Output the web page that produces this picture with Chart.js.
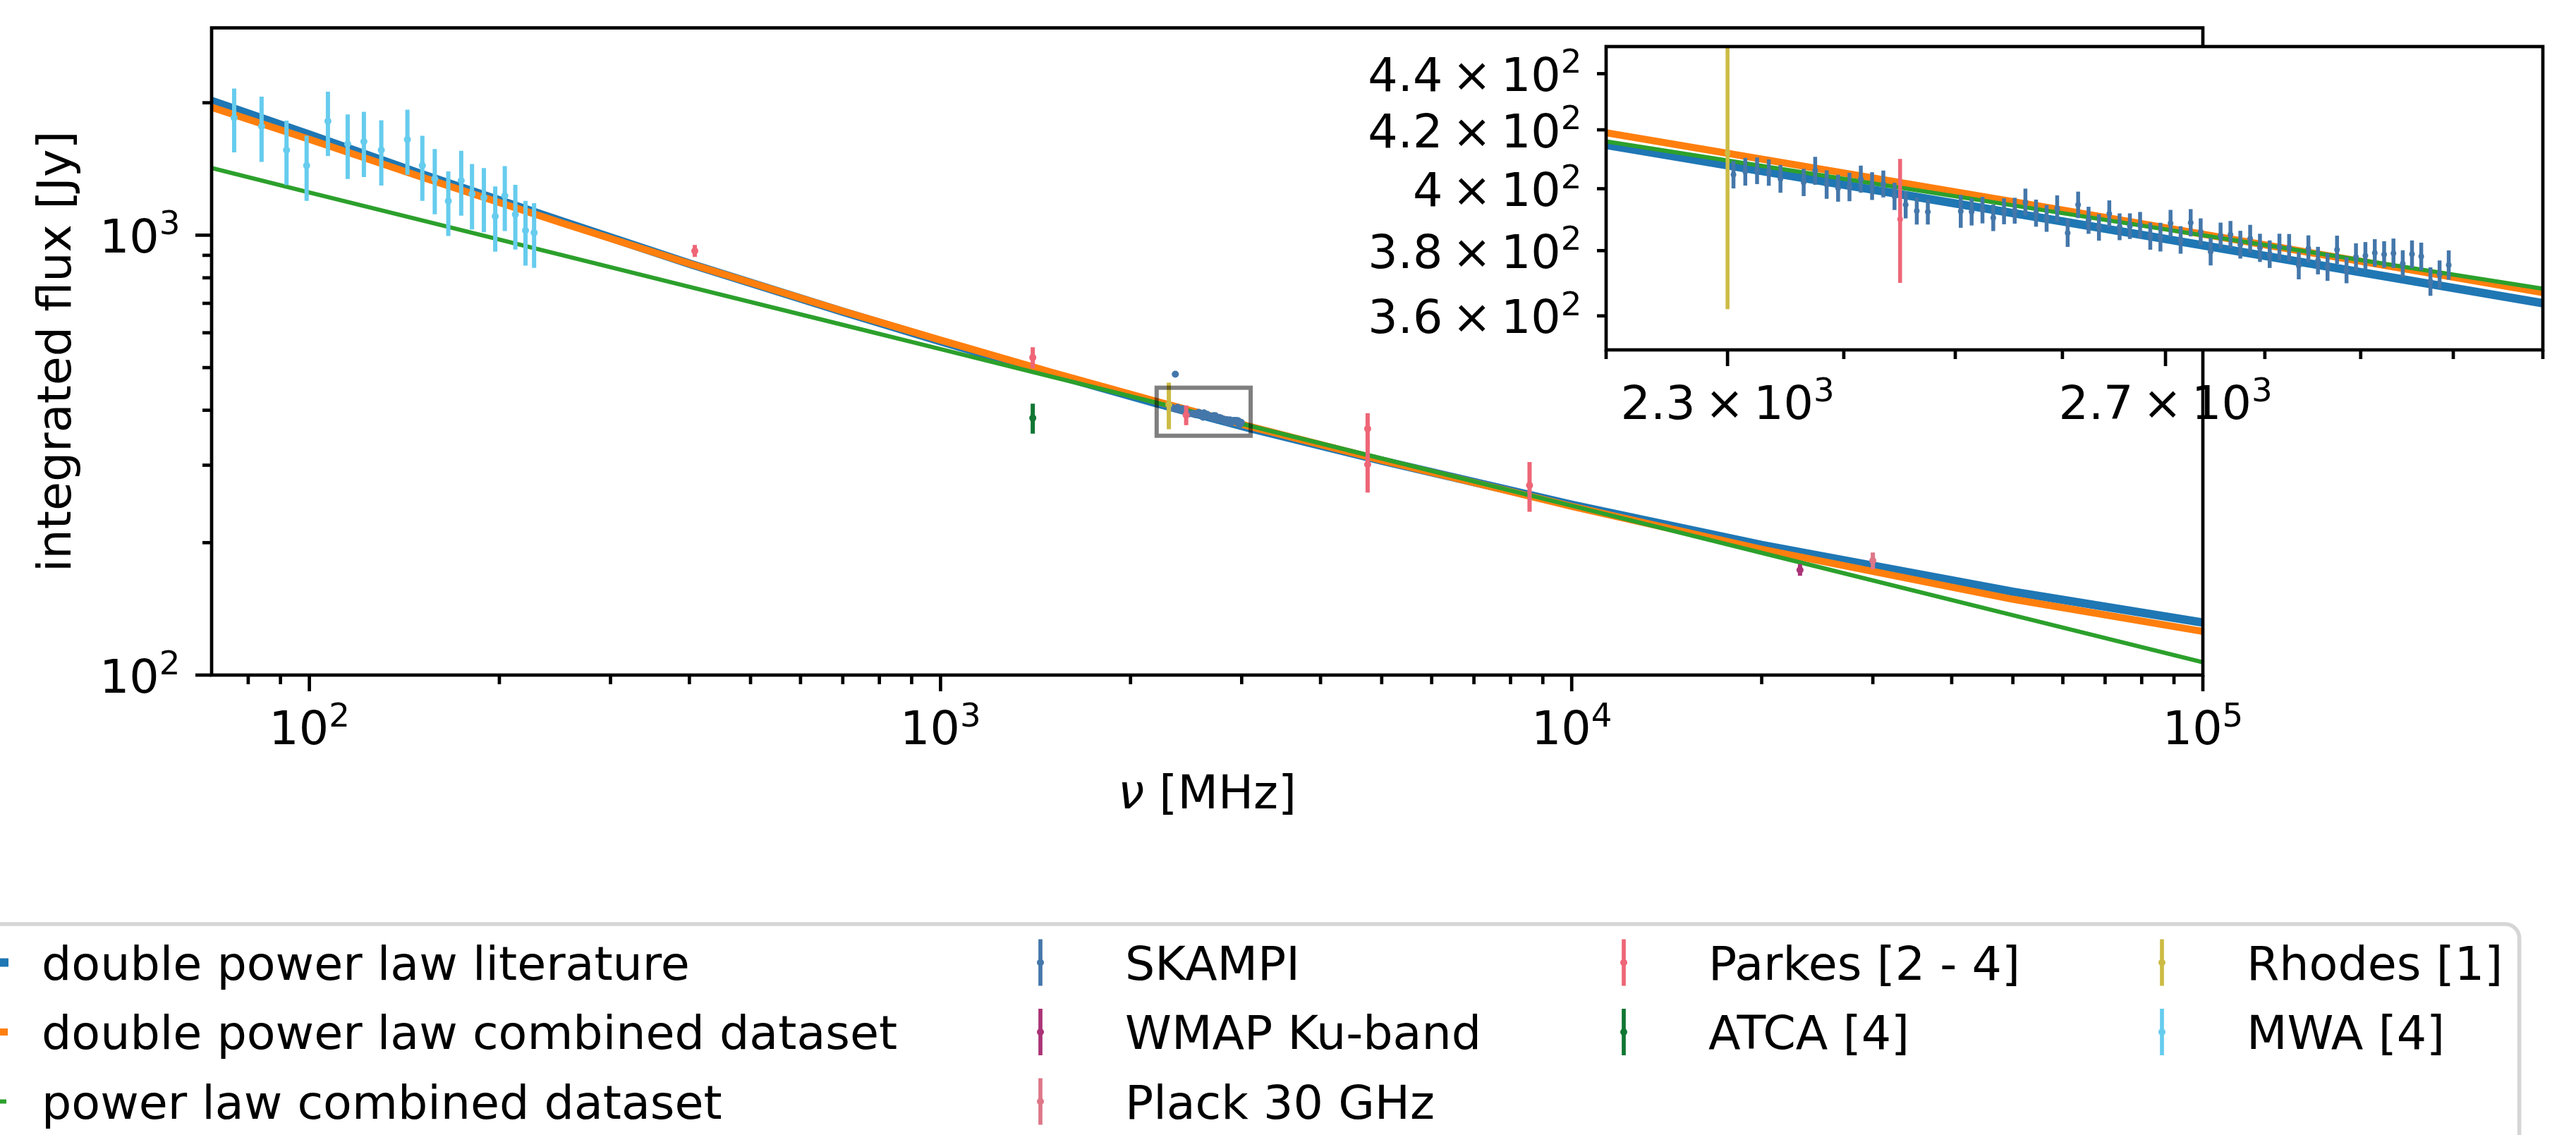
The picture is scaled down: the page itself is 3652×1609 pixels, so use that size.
<!DOCTYPE html>
<html>
<head>
<meta charset="utf-8">
<script src="https://cdn.jsdelivr.net/npm/chart.js@4.4.1/dist/chart.umd.min.js"></script>
<style>
html,body{margin:0;padding:0;background:#fff;overflow:hidden;}
#wrap{position:relative;width:3652px;height:1609px;}
#main{position:absolute;left:0;top:0;}
#inset{position:absolute;left:1900px;top:0;}
</style>
</head>
<body>
<div id="wrap">
<canvas id="main" width="3652" height="1609"></canvas>
<canvas id="inset" width="1752" height="640"></canvas>
</div>
<script>
// ---------------- DATA ----------------
// model curves (frequency in MHz, flux in Jy)
const modelFreq     = [70, 100, 150, 250, 400, 700, 1000, 1500, 2200, 2600, 3100, 5000, 10000, 20000, 50000, 100000];
const dplLiterature = [2018, 1692, 1379, 1077, 861.8, 670, 574.2, 484.2, 414.8, 389.3, 363.8, 307.2, 243.8, 197.6, 154.7, 131.6];
const dplCombined   = [1953, 1651, 1358, 1068, 861.8, 672.2, 577.5, 487.8, 419.0, 393.0, 367.0, 307.9, 241.8, 193.2, 148.7, 125.7];
const plCombined    = [1422, 1250.5, 1082.4, 902.4, 763.2, 625.4, 550.9, 476.8, 416.0, 392.0, 368.2, 310.7, 242.7, 189.6, 136.8, 106.9];

// SKAMPI
const skampiFreq = [2305, 2315, 2325, 2335, 2345, 2355, 2365, 2375, 2385, 2395, 2405, 2415, 2425, 2435, 2445, 2455, 2465, 2475,
  2505, 2515, 2525, 2535, 2545, 2555, 2565, 2575, 2585, 2595, 2605, 2615, 2625, 2635, 2645, 2655, 2665, 2675, 2685, 2695,
  2705, 2715, 2725, 2735, 2745, 2755, 2765, 2775, 2785, 2795, 2805, 2815, 2825, 2835, 2845, 2855, 2865, 2875, 2885, 2895,
  2905, 2915, 2925, 2935, 2945, 2955, 2965, 2975, 2985, 2995];
const skampiFlux = [404.7, 405.7, 406.0, 405.4, 403.3, 483.0, 402.1, 406.0, 401.4, 400.2, 400.6, 403.2, 400.9, 401.6, 397.5, 394.7, 392.7, 392.4,
  392.6, 392.4, 393.0, 390.5, 392.6, 392.8, 395.6, 392.0, 390.3, 393.5, 385.6, 394.7, 389.7, 387.4, 391.8, 387.6, 387.8, 388.1, 384.6, 384.3,
  388.7, 383.4, 388.9, 386.0, 379.7, 384.8, 385.1, 381.9, 383.8, 380.9, 378.9, 381.2, 381.0, 375.3, 380.6, 376.9, 374.9, 380.3, 373.9, 378.0,
  378.4, 379.3, 378.8, 379.2, 375.9, 378.9, 378.2, 370.4, 372.6, 375.5];
const skampiErr = [4.61, 4.66, 4.47, 4.42, 4.64, 4.5, 4.54, 4.71, 4.73, 4.48, 4.72, 4.52, 4.61, 4.46, 4.49, 4.42, 4.40, 4.09,
  5.35, 4.40, 4.33, 4.30, 4.21, 4.21, 4.43, 4.39, 4.33, 4.29, 4.43, 4.34, 4.37, 4.26, 4.35, 4.30, 4.12, 4.27, 4.31, 4.57,
  4.35, 4.37, 4.39, 4.29, 4.33, 4.12, 4.35, 4.39, 4.41, 4.45, 4.32, 4.16, 4.27, 4.24, 4.23, 4.30, 4.31, 4.44, 4.04, 4.31,
  4.31, 4.32, 4.17, 4.62, 4.21, 4.32, 4.31, 4.37, 4.32, 4.57];

const wmapFreq = [23000];  const wmapFlux = [173.4];  const wmapErr = [5.3];
const planckFreq = [30000]; const planckFlux = [182.0]; const planckErr = [8];
const parkesFreq = [408, 1400, 2450, 4750, 4750, 8575];
const parkesFlux = [921, 527, 390, 363, 301, 270];
const parkesErr  = [29, 29, 20, 31, 41, 35];
const atcaFreq = [1400];  const atcaFlux = [384];  const atcaErr = [30];
const rhodesFreq = [2300]; const rhodesFlux = [412]; const rhodesErr = [50];
const mwaFreq = [76, 84, 92, 99, 107, 115, 122, 130, 143, 151, 158, 166, 174, 181, 189, 197, 204, 212, 220, 227];
const mwaFlux = [1848, 1767, 1561, 1440, 1816, 1612, 1632, 1561, 1650, 1440, 1343, 1196, 1331, 1241, 1218, 1104, 1229, 1115, 1025, 1013];
const mwaErr  = [306, 299, 261, 243, 303, 270, 276, 264, 278, 243, 227, 200, 224, 210, 203, 187, 207, 187, 172, 170];

// ticks and labels
const mainXMajor = [100, 1000, 10000, 100000];
const mainXLabels = ['10^2', '10^3', '10^4', '10^5'];
const mainXMinor = [80, 90, 200, 300, 400, 500, 600, 700, 800, 900, 2000, 3000, 4000, 5000, 6000, 7000, 8000, 9000,
  20000, 30000, 40000, 50000, 60000, 70000, 80000, 90000];
const mainYMajor = [100, 1000];
const mainYLabels = ['10^2', '10^3'];
const mainYMinor = [200, 300, 400, 500, 600, 700, 800, 900, 2000];
const insetXMajor = [2300, 2700];
const insetXLabels = ['2.3\u2009\u00d7\u200910^3', '2.7\u2009\u00d7\u200910^3'];
const insetXMinor = [2200, 2400, 2500, 2600, 2800, 2900, 3000, 3100];
const insetYTicks = [360, 380, 400, 420, 440];
const insetYLabels = ['3.6\u2009\u00d7\u200910^2', '3.8\u2009\u00d7\u200910^2', '4\u2009\u00d7\u200910^2', '4.2\u2009\u00d7\u200910^2', '4.4\u2009\u00d7\u200910^2'];
const xTitleSymbol = '\u03bd';
const xTitleRest = ' [MHz]';
const yTitle = 'integrated flux [Jy]';
const legendColumns = [
  ['double power law literature', 'double power law combined dataset', 'power law combined dataset'],
  ['SKAMPI', 'WMAP Ku-band', 'Plack 30 GHz'],
  ['Parkes [2 - 4]', 'ATCA [4]'],
  ['Rhodes [1]', 'MWA [4]']
];

// ---------------- STYLE ----------------
const FS = 66.7;
const FAM = '"DejaVu Sans"';
const pointSeries = [
  {label: 'SKAMPI', color: '#4477AA', f: skampiFreq, s: skampiFlux, e: skampiErr, order: 10},
  {label: 'WMAP Ku-band', color: '#AA3377', f: wmapFreq, s: wmapFlux, e: wmapErr, order: 9},
  {label: 'Plack 30 GHz', color: '#DD7788', f: planckFreq, s: planckFlux, e: planckErr, order: 8},
  {label: 'Parkes [2 - 4]', color: '#EE6677', f: parkesFreq, s: parkesFlux, e: parkesErr, order: 7},
  {label: 'ATCA [4]', color: '#117733', f: atcaFreq, s: atcaFlux, e: atcaErr, order: 6},
  {label: 'Rhodes [1]', color: '#CCBB44', f: rhodesFreq, s: rhodesFlux, e: rhodesErr, order: 5},
  {label: 'MWA [4]', color: '#66CCEE', f: mwaFreq, s: mwaFlux, e: mwaErr, order: 4}
];
const lineSeries = [
  {label: 'double power law literature', color: '#1f77b4', width: 12, s: dplLiterature, order: 30},
  {label: 'double power law combined dataset', color: '#ff7f0e', width: 10, s: dplCombined, order: 29},
  {label: 'power law combined dataset', color: '#2ca02c', width: 6, s: plCombined, order: 28}
];

function makeDatasets(pr, ew) {
  const out = [];
  lineSeries.forEach(l => out.push({
    label: l.label, data: modelFreq.map((f, i) => ({x: f, y: l.s[i]})),
    showLine: true, borderColor: l.color, backgroundColor: l.color, borderWidth: l.width,
    pointRadius: 0, tension: 0, order: l.order, lineWidthLegend: l.width
  }));
  pointSeries.forEach(p => out.push({
    label: p.label, data: p.f.map((f, i) => ({x: f, y: p.s[i]})), err: p.e.slice(), errWidth: ew,
    showLine: false, borderColor: p.color, backgroundColor: p.color, pointBackgroundColor: p.color,
    pointBorderWidth: 0, pointRadius: pr, order: p.order
  }));
  return out;
}

function drawSci(ctx, label, x, y, align) {
  const parts = label.split('^');
  const base = parts[0], exp = parts[1];
  ctx.font = FS + 'px ' + FAM;
  const wb = ctx.measureText(base).width;
  let we = 0;
  if (exp) { ctx.font = (FS * 0.7) + 'px ' + FAM; we = ctx.measureText(exp).width; }
  const w = wb + we;
  const x0 = align === 'center' ? x - w / 2 : (align === 'right' ? x - w : x);
  ctx.textAlign = 'left'; ctx.textBaseline = 'alphabetic'; ctx.fillStyle = '#000';
  ctx.font = FS + 'px ' + FAM; ctx.fillText(base, x0, y);
  if (exp) { ctx.font = (FS * 0.7) + 'px ' + FAM; ctx.fillText(exp, x0 + wb, y - 25.5); }
}

const decor = {
  id: 'decor',
  beforeDraw(chart, args, o) {
    const ctx = chart.ctx, a = chart.chartArea;
    ctx.save(); ctx.fillStyle = '#fff';
    if (o.fullBg) ctx.fillRect(0, 0, chart.width, chart.height);
    else ctx.fillRect(a.left, a.top, a.right - a.left, a.bottom - a.top);
    ctx.restore();
  },
  beforeDatasetDraw(chart, args) {
    const ds = chart.data.datasets[args.index];
    if (!ds.err) return;
    const ctx = chart.ctx, a = chart.chartArea, xs = chart.scales.x, ys = chart.scales.y;
    ctx.save();
    ctx.beginPath(); ctx.rect(a.left, a.top, a.right - a.left, a.bottom - a.top); ctx.clip();
    ctx.strokeStyle = ds.borderColor; ctx.lineWidth = ds.errWidth; ctx.lineCap = 'butt';
    ds.data.forEach((p, i) => {
      const e = ds.err[i];
      const px = xs.getPixelForValue(p.x);
      ctx.beginPath();
      ctx.moveTo(px, ys.getPixelForValue(p.y - e));
      ctx.lineTo(px, ys.getPixelForValue(p.y + e));
      ctx.stroke();
    });
    ctx.restore();
  },
  afterDatasetsDraw(chart, args, o) {
    if (!o.zoomBox) return;
    const ctx = chart.ctx, xs = chart.scales.x, ys = chart.scales.y, b = o.zoomBox;
    const x0 = xs.getPixelForValue(b[0]), x1 = xs.getPixelForValue(b[1]);
    const y0 = ys.getPixelForValue(b[3]), y1 = ys.getPixelForValue(b[2]);
    ctx.save(); ctx.strokeStyle = 'rgba(0,0,0,0.5)'; ctx.lineWidth = 6;
    ctx.strokeRect(x0, y0, x1 - x0, y1 - y0); ctx.restore();
  },
  afterDraw(chart, args, o) {
    const ctx = chart.ctx, a = chart.chartArea, xs = chart.scales.x, ys = chart.scales.y;
    ctx.save();
    ctx.strokeStyle = '#000'; ctx.lineWidth = 4.7; ctx.lineCap = 'butt';
    const tick = (px, py, dx, dy) => { ctx.beginPath(); ctx.moveTo(px, py); ctx.lineTo(px + dx, py + dy); ctx.stroke(); };
    o.xMajor.forEach(v => tick(xs.getPixelForValue(v), a.bottom, 0, o.xMajorLen));
    o.xMinor.forEach(v => tick(xs.getPixelForValue(v), a.bottom, 0, 13));
    o.yMajor.forEach(v => tick(a.left, ys.getPixelForValue(v), -o.yMajorLen, 0));
    o.yMinor.forEach(v => tick(a.left, ys.getPixelForValue(v), -13, 0));
    ctx.lineJoin = 'miter';
    ctx.strokeRect(a.left, a.top, a.right - a.left, a.bottom - a.top);
    o.xMajor.forEach((v, i) => drawSci(ctx, o.xLabels[i], xs.getPixelForValue(v), a.bottom + 98, 'center'));
    o.yMajor.forEach((v, i) => drawSci(ctx, o.yLabels[i], a.left - o.yMajorLen - 21.5, ys.getPixelForValue(v) + 24.5, 'right'));
    if (o.titles) {
      // y title
      ctx.save(); ctx.translate(100, (a.top + a.bottom) / 2); ctx.rotate(-Math.PI / 2);
      ctx.font = FS + 'px ' + FAM; ctx.textAlign = 'center'; ctx.textBaseline = 'alphabetic'; ctx.fillStyle = '#000';
      ctx.fillText(yTitle, 0, 0); ctx.restore();
      // x title
      ctx.font = 'italic ' + FS + 'px ' + FAM; const w1 = ctx.measureText(xTitleSymbol).width;
      ctx.font = FS + 'px ' + FAM; const w2 = ctx.measureText(xTitleRest).width;
      const cx = (a.left + a.right) / 2, x0 = cx - (w1 + w2) / 2, by = 1146;
      ctx.textAlign = 'left'; ctx.fillStyle = '#000';
      ctx.font = 'italic ' + FS + 'px ' + FAM; ctx.fillText(xTitleSymbol, x0, by);
      ctx.font = FS + 'px ' + FAM; ctx.fillText(xTitleRest, x0 + w1, by);
    }
    if (o.legend) drawLegend(chart);
    ctx.restore();
  }
};

function drawLegend(chart) {
  const ctx = chart.ctx;
  const byLabel = {};
  chart.data.datasets.forEach(d => byLabel[d.label] = d);
  ctx.save();
  ctx.beginPath(); ctx.roundRect(-150, 1310, 3571.6 + 150, 420, 20);
  ctx.fillStyle = 'rgba(255,255,255,0.8)'; ctx.fill();
  ctx.strokeStyle = 'rgba(204,204,204,0.8)'; ctx.lineWidth = 5.6; ctx.stroke();
  const rowY = [1364.5, 1463, 1561.5];
  const handleX = [null, 1475, 2302, 3065];
  ctx.font = FS + 'px ' + FAM; ctx.textAlign = 'left'; ctx.textBaseline = 'alphabetic';
  legendColumns.forEach((col, ci) => {
    col.forEach((lab, ri) => {
      const d = byLabel[lab]; const cy = rowY[ri];
      if (ci === 0) {
        ctx.strokeStyle = d.borderColor; ctx.lineWidth = d.lineWidthLegend; ctx.lineCap = 'square';
        ctx.beginPath(); ctx.moveTo(-127, cy); ctx.lineTo(6, cy); ctx.stroke();
        ctx.fillStyle = '#000'; ctx.fillText(lab, 59, cy + 24);
      } else {
        const hx = handleX[ci];
        ctx.strokeStyle = d.borderColor; ctx.lineWidth = 5.7; ctx.lineCap = 'butt';
        ctx.beginPath(); ctx.moveTo(hx, cy - 33); ctx.lineTo(hx, cy + 33); ctx.stroke();
        ctx.fillStyle = d.borderColor; ctx.beginPath(); ctx.arc(hx, cy, 5, 0, Math.PI * 2); ctx.fill();
        ctx.fillStyle = '#000'; ctx.fillText(lab, hx + 120, cy + 24);
      }
    });
  });
  ctx.restore();
}

function scaleOpts(min, max) {
  return {
    type: 'logarithmic', min: min, max: max, display: true,
    grid: {display: false, drawTicks: false}, border: {display: false},
    ticks: {display: false}, title: {display: false},
    afterFit: s => { if (s.isHorizontal()) s.height = 0; else s.width = 0; }
  };
}

Chart.defaults.font.family = 'DejaVu Sans';

new Chart(document.getElementById('main'), {
  type: 'scatter',
  data: {datasets: makeDatasets(5, 6)},
  options: {
    responsive: false, animation: false, devicePixelRatio: 1,
    layout: {padding: {left: 300, top: 39.5, right: 529, bottom: 652}, autoPadding: false},
    scales: {x: scaleOpts(70, 100000), y: scaleOpts(100, 2960)},
    plugins: {
      legend: {display: false}, tooltip: {enabled: false},
      decor: {
        fullBg: true, titles: true, legend: true, zoomBox: [2200, 3100, 350, 450],
        xMajor: mainXMajor, xLabels: mainXLabels, xMinor: mainXMinor, xMajorLen: 23,
        yMajor: mainYMajor, yLabels: mainYLabels, yMinor: mainYMinor, yMajorLen: 23
      }
    }
  },
  plugins: [decor]
});

new Chart(document.getElementById('inset'), {
  type: 'scatter',
  data: {datasets: makeDatasets(4, 5.5)},
  options: {
    responsive: false, animation: false, devicePixelRatio: 1,
    layout: {padding: {left: 377, top: 66, right: 47, bottom: 144}, autoPadding: false},
    scales: {x: scaleOpts(2200, 3100), y: scaleOpts(350, 450)},
    plugins: {
      legend: {display: false}, tooltip: {enabled: false},
      decor: {
        fullBg: false, titles: false, legend: false, zoomBox: null,
        xMajor: insetXMajor, xLabels: insetXLabels, xMinor: insetXMinor, xMajorLen: 23,
        yMajor: insetYTicks, yLabels: insetYLabels, yMinor: [], yMajorLen: 13
      }
    }
  },
  plugins: [decor]
});
</script>
</body>
</html>
